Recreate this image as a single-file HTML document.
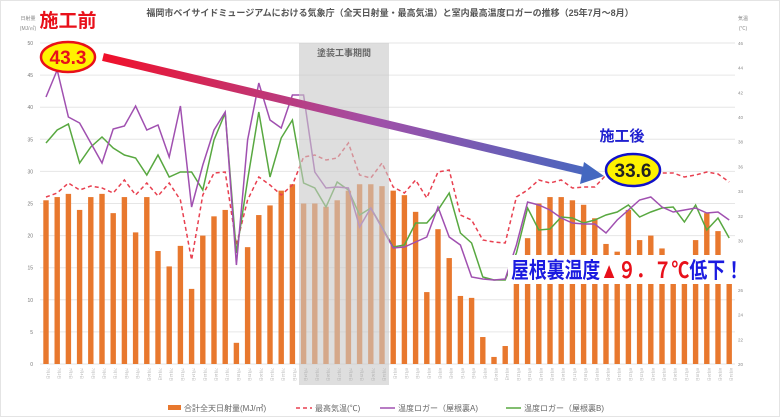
<!DOCTYPE html>
<html><head><meta charset="utf-8"><style>
html,body{margin:0;padding:0;background:#fff}
svg{display:block;font-family:"Liberation Sans","Noto Sans CJK JP",sans-serif}
</style></head><body>
<svg id="c" width="780" height="417" viewBox="0 0 780 417" xmlns="http://www.w3.org/2000/svg">
<defs>
<linearGradient id="ag" x1="103" y1="57" x2="600" y2="175" gradientUnits="userSpaceOnUse">
<stop offset="0" stop-color="#f0102a"/><stop offset="0.55" stop-color="#a050a8"/><stop offset="1" stop-color="#4468c0"/>
</linearGradient>
</defs>
<rect x="0.5" y="0.5" width="779" height="416" fill="#fff" stroke="#e4e4e4"/>
<g id="grid"></g>
<g id="bars"></g>
<g id="lines"></g>
<rect x="299" y="43" width="90" height="342" fill="#c8c8c8" opacity="0.6"/>
<text x="344" y="56" font-size="9" fill="#666" text-anchor="middle" font-weight="bold">塗装工事期間</text>
<g id="ticks"></g>
<text x="390" y="16" font-size="9" font-weight="bold" fill="#555" text-anchor="middle">福岡市ベイサイドミュージアムにおける気象庁（全天日射量・最高気温）と室内最高温度ロガーの推移（25年7月～8月）</text>
<text x="28" y="20" font-size="5" fill="#888" text-anchor="middle">日射量</text>
<text x="28" y="30" font-size="5" fill="#888" text-anchor="middle">(MJ/㎡)</text>
<text x="743" y="20" font-size="5" fill="#888" text-anchor="middle">気温</text>
<text x="743" y="30" font-size="5" fill="#888" text-anchor="middle">(℃)</text>
<line x1="103" y1="57" x2="588" y2="172" stroke="url(#ag)" stroke-width="8"/>
<polygon points="584,162 604,176 580,184" fill="#4468c0"/>
<text x="68" y="27" font-size="19" font-weight="bold" fill="#e8101a" text-anchor="middle">施工前</text>
<ellipse cx="68" cy="57" rx="27" ry="15" fill="#fff200" stroke="#e8101a" stroke-width="2.5"/>
<text x="68" y="64" font-size="19" font-weight="bold" fill="#e8101a" text-anchor="middle">43.3</text>
<text x="622" y="141" font-size="15" font-weight="bold" fill="#2020d0" text-anchor="middle">施工後</text>
<ellipse cx="633" cy="170" rx="27" ry="16" fill="#fff200" stroke="#1010c8" stroke-width="2.5"/>
<text x="633" y="177" font-size="19" font-weight="bold" fill="#222" text-anchor="middle">33.6</text>
<rect x="508" y="255" width="240" height="29" fill="#fff"/>
<text x="511" y="278" font-size="22" font-weight="bold" fill="#1a1ae0" textLength="232" lengthAdjust="spacingAndGlyphs">屋根裏温度<tspan fill="#e8101a">▲９．７℃</tspan>低下！</text>
<rect x="168" y="405" width="13" height="5" fill="#e8782e"/>
<text x="184" y="411" font-size="8" fill="#666">合計全天日射量(MJ/㎡)</text>
<line x1="296" y1="408" x2="312" y2="408" stroke="#e84050" stroke-width="1.5" stroke-dasharray="4,3"/>
<text x="315" y="411" font-size="8" fill="#666">最高気温(℃)</text>
<line x1="380" y1="408" x2="395" y2="408" stroke="#a050b0" stroke-width="1.5"/>
<text x="398" y="411" font-size="8" fill="#666">温度ロガー（屋根裏A)</text>
<line x1="506" y1="408" x2="521" y2="408" stroke="#58a840" stroke-width="1.5"/>
<text x="524" y="411" font-size="8" fill="#666">温度ロガー（屋根裏B)</text>
</svg>
<script>
var NS="http://www.w3.org/2000/svg";
function el(p,t,a,txt){var e=document.createElementNS(NS,t);for(var k in a)e.setAttribute(k,a[k]);if(txt!=null)e.textContent=txt;document.getElementById(p).appendChild(e);return e;}
var y0=364,sc=6.42;
for(var v=0;v<=50;v+=5){var y=y0-v*sc;el("grid","line",{x1:40,x2:735,y1:y,y2:y,stroke:"#e6e6e6","stroke-width":1});
 el("grid","text",{x:33,y:y+2,"font-size":5,fill:"#777","text-anchor":"end"},v);}
for(var t=20,i=0;t<=46;t+=2,i++){var y=364-(t-20)*12.35;el("grid","text",{x:738,y:y+2,"font-size":4.5,fill:"#888"},t);}
var bars=[25.5,26,26.5,24,26,26.5,23.5,26,20.5,26,17.6,15.2,18.4,11.7,20,23,24,3.3,18.2,23.2,24.7,27,28,25,25,24.5,25.5,27,28,28,27.7,27,26.3,23.7,11.2,21,16.5,10.6,10.3,4.2,1.1,2.8,14,19.6,25,26,26,25.5,24.8,22.7,18.7,17.5,24,19.3,20,18,14,14,19.3,23.5,20.7,14];
function X(i){return 46+i*11.2;}
bars.forEach(function(b,i){el("bars","rect",{x:X(i)-2.7,y:y0-b*sc,width:5.4,height:b*sc,fill:"#e8782e"});
 el("ticks","text",{x:0,y:0,"font-size":3.5,fill:"#aaa",transform:"translate("+(X(i)+1)+",368) rotate(90)"},(i<31?"7月"+(i+1)+"日":"8月"+(i-30)+"日"));});
var P=[97,70,117,123,143,163,129,126,106,130,125,157,106,207,165,130,112,265,140,83,120,128,95,95,172,188,187,188,227,208,228,248,247,242,237,207,237,245,277,279,280,279,245,202,205,210,218,223,224,224,233,220,210,200,197,207,212,210,208,213,212,220];
var G=[143,130,124,163,147,137,148,155,158,175,155,177,172,172,190,140,113,253,180,112,177,138,120,183,188,207,182,190,215,208,227,247,245,223,223,210,193,233,243,277,280,280,253,208,230,229,217,218,223,220,215,212,205,217,212,208,207,222,205,230,218,238];
var R=[197,193,183,190,186,188,193,180,195,183,196,183,200,260,195,173,172,245,200,177,185,195,185,157,155,160,158,143,175,178,163,187,193,180,198,172,170,215,220,240,242,243,197,190,180,183,180,188,187,187,175,173,173,173,173,173,173,177,175,172,174,182];
function pts(a){return a.map(function(y,i){return X(i)+","+y;}).join(" ");}
el("lines","polyline",{points:pts(R),fill:"none",stroke:"#e84050","stroke-width":1.5,"stroke-dasharray":"4,3"});
el("lines","polyline",{points:pts(G),fill:"none",stroke:"#58a840","stroke-width":1.5});
el("lines","polyline",{points:pts(P),fill:"none",stroke:"#a050b0","stroke-width":1.5});
</script>
</body></html>
